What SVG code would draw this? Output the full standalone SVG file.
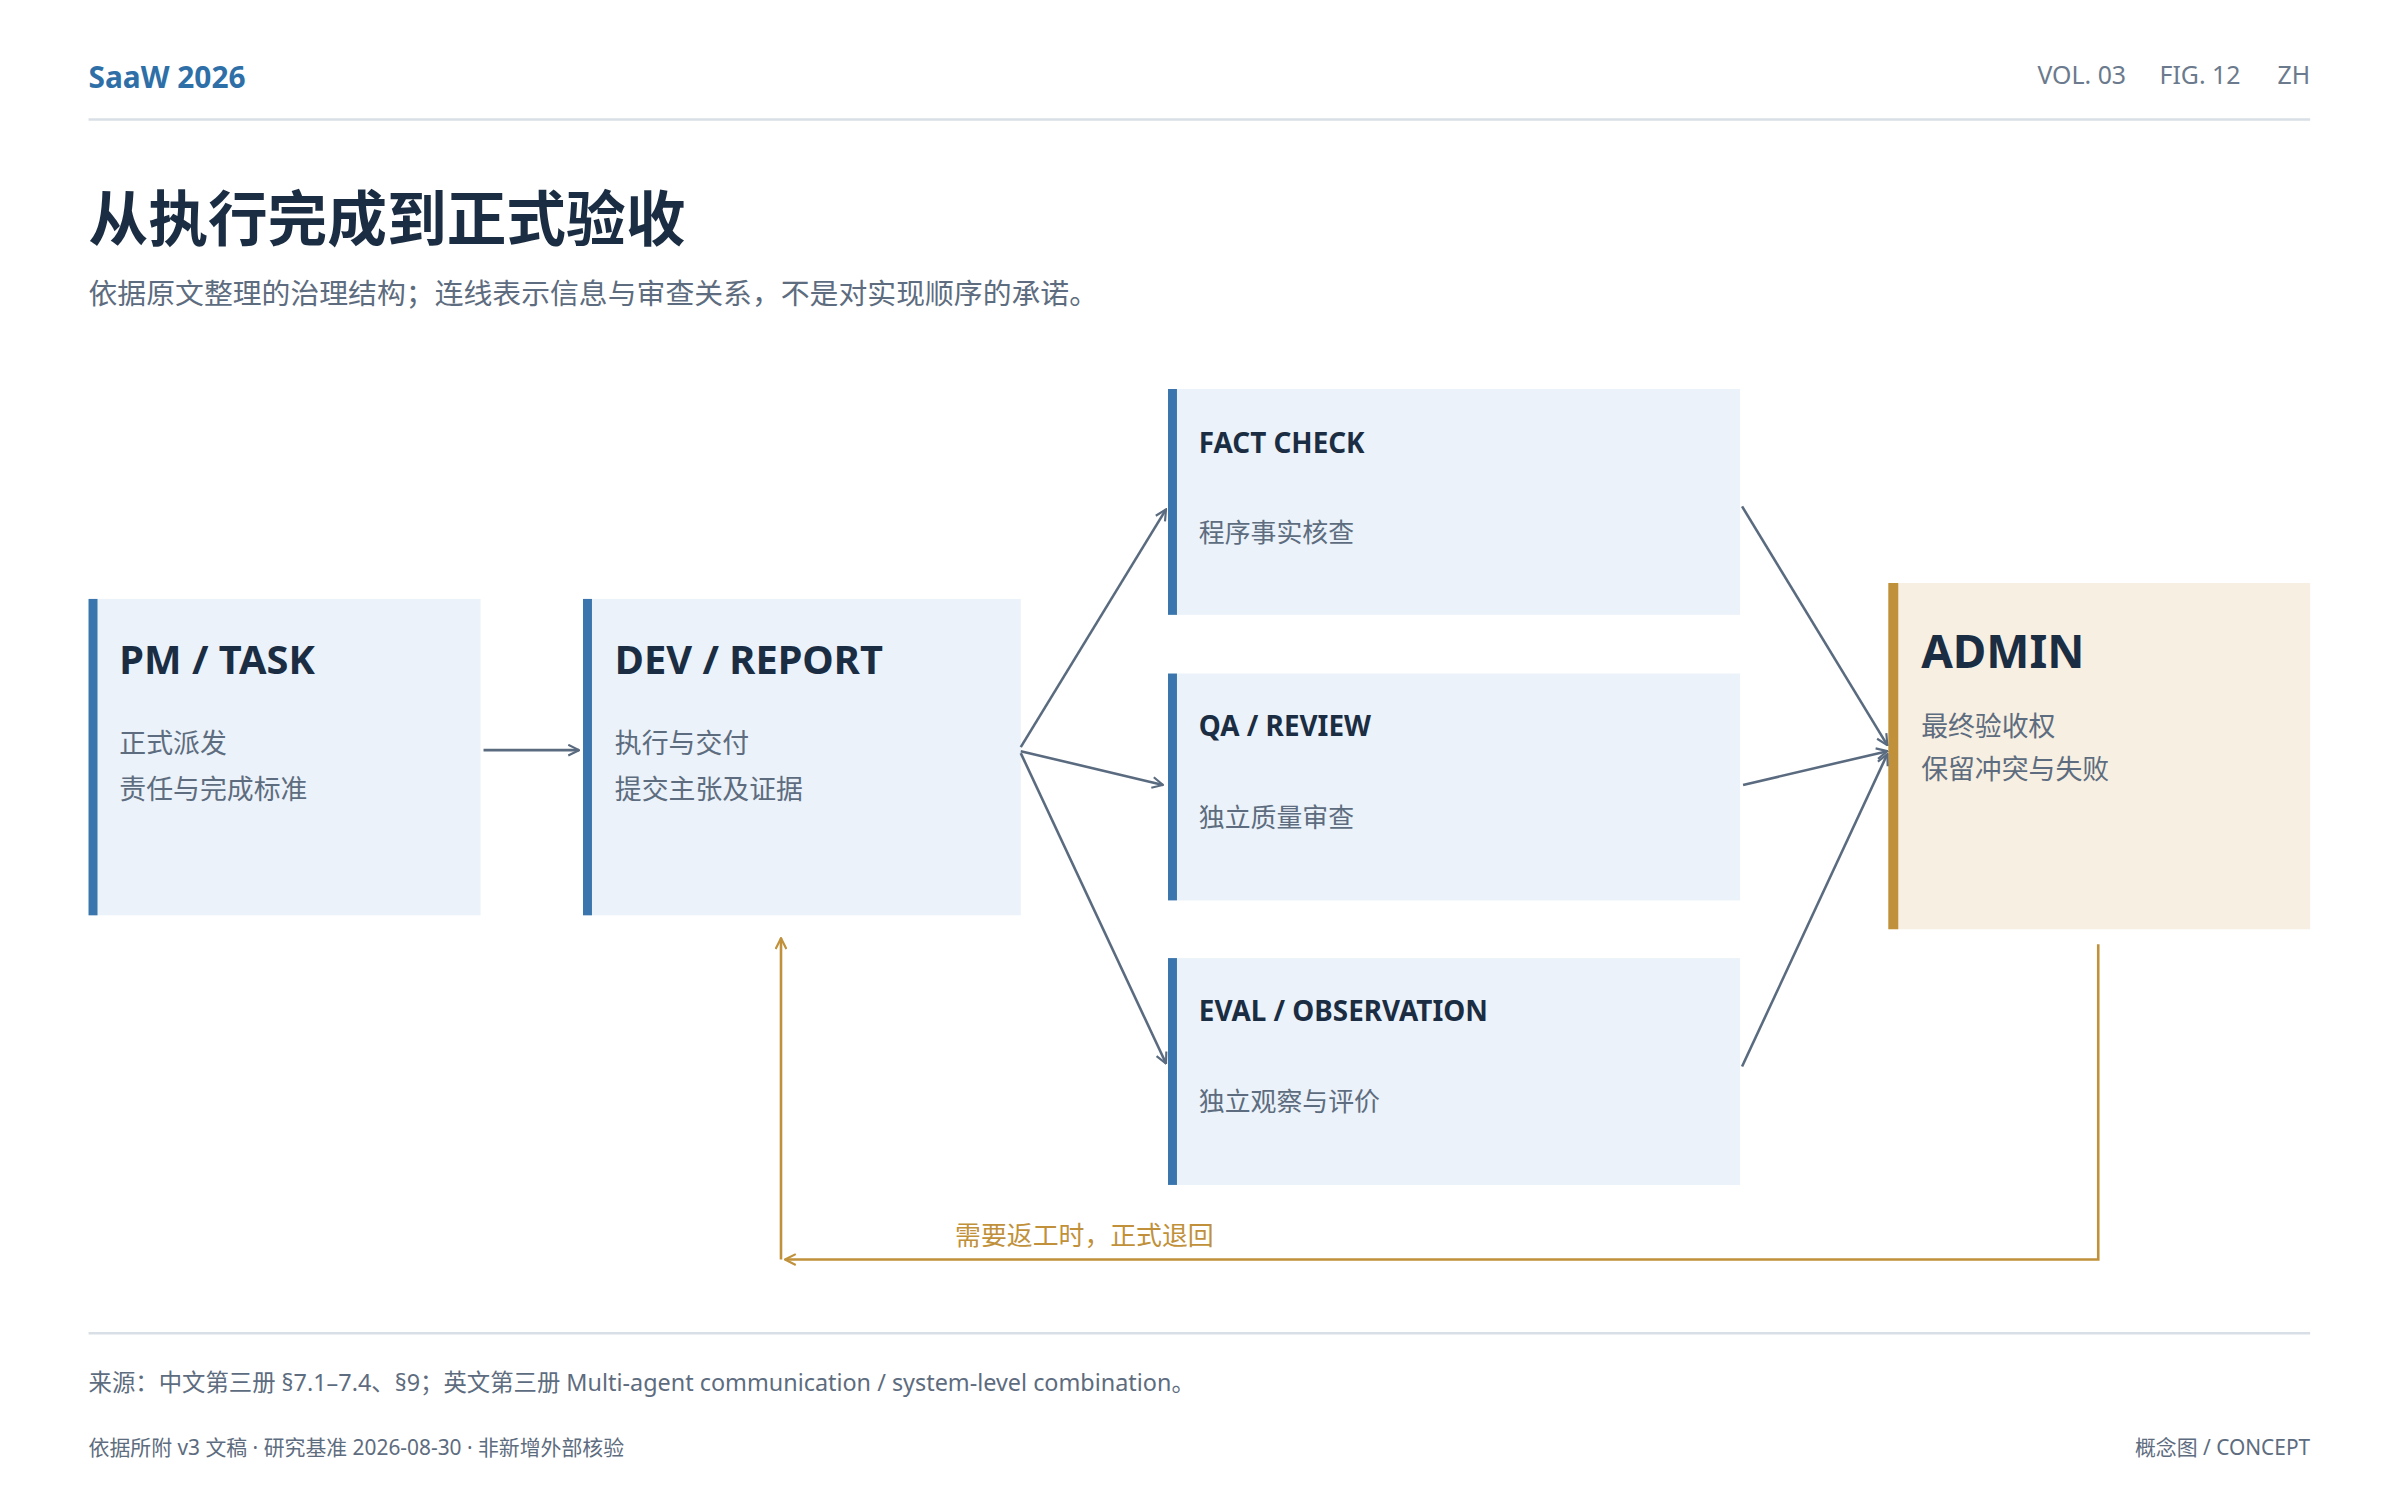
<svg xmlns="http://www.w3.org/2000/svg" width="2400" height="1500" viewBox="0 0 2400 1500">
<defs>
<style>
text{font-family:"Noto Sans","Noto Sans CJK SC",sans-serif}
.cj{font-family:"Noto Sans CJK SC","Noto Sans",sans-serif}
.bf{fill:#ebf2f9}.bb{fill:#3a76ad}
.h{font-weight:700;fill:#1b2d42}
.s{fill:#5d6c7e}
.c{stroke:#5a6b80;stroke-width:2.6;fill:none;marker-end:url(#a)}
.r{stroke:#c0913a;stroke-width:2.6;fill:none}
</style>
<marker id="a" viewBox="0 0 12 12" refX="11" refY="6" markerWidth="13" markerHeight="13" markerUnits="userSpaceOnUse" orient="auto"><path d="M1,1 L11,6 L1,11" fill="none" stroke="#5a6b80" stroke-width="2"/></marker>
<marker id="g" viewBox="0 0 12 12" refX="11" refY="6" markerWidth="13" markerHeight="13" markerUnits="userSpaceOnUse" orient="auto"><path d="M1,1 L11,6 L1,11" fill="none" stroke="#c0913a" stroke-width="2"/></marker>
</defs>
<rect width="2400" height="1500" fill="#fff"/>
<g transform="scale(0.9949)">
<text x="89" y="88" font-size="30" font-weight="700" fill="#2e6fa8">SaaW 2026</text>
<text x="2322" y="84" font-size="25" fill="#6b7a8c" text-anchor="end">ZH</text>
<text x="2252" y="84" font-size="25" fill="#6b7a8c" text-anchor="end">FIG. 12</text>
<text x="2137" y="84" font-size="25" fill="#6b7a8c" text-anchor="end">VOL. 03</text>
<line x1="89" y1="120" x2="2322" y2="120" stroke="#d9dfe6" stroke-width="2.5"/>
<text class="cj" x="89" y="242" font-size="60" font-weight="700" fill="#1b2d42">从执行完成到正式验收</text>
<text class="cj" x="89" y="306" font-size="29" fill="#5d6c7e">依据原文整理的治理结构；连线表示信息与审查关系，不是对实现顺序的承诺。</text>

<g id="pm"><rect class="bf" x="89" y="602" width="394" height="318"/><rect class="bb" x="89" y="602" width="9" height="318"/>
<text class="h" x="120" y="677" font-size="40">PM / TASK</text>
<text class="s" x="120" y="757" font-size="27">正式派发</text><text class="s" x="120" y="803" font-size="27">责任与完成标准</text></g>
<g id="dev"><rect class="bf" x="586" y="602" width="440" height="318"/><rect class="bb" x="586" y="602" width="9" height="318"/>
<text class="h" x="618" y="677" font-size="40">DEV / REPORT</text>
<text class="s" x="618" y="757" font-size="27">执行与交付</text><text class="s" x="618" y="803" font-size="27">提交主张及证据</text></g>
<g id="fact"><rect class="bf" x="1174" y="391" width="575" height="227"/><rect class="bb" x="1174" y="391" width="9" height="227"/>
<text class="h" x="1205" y="455" font-size="28">FACT CHECK</text>
<text class="s" x="1205" y="545" font-size="26">程序事实核查</text></g>
<g id="qa"><rect class="bf" x="1174" y="677" width="575" height="228"/><rect class="bb" x="1174" y="677" width="9" height="228"/>
<text class="h" x="1205" y="740" font-size="28">QA / REVIEW</text>
<text class="s" x="1205" y="831" font-size="26">独立质量审查</text></g>
<g id="eval"><rect class="bf" x="1174" y="963" width="575" height="228"/><rect class="bb" x="1174" y="963" width="9" height="228"/>
<text class="h" x="1205" y="1026" font-size="28">EVAL / OBSERVATION</text>
<text class="s" x="1205" y="1117" font-size="26">独立观察与评价</text></g>
<g id="admin"><rect fill="#f7efe2" x="1898" y="586" width="424" height="348"/><rect fill="#c0913a" x="1898" y="586" width="10" height="348"/>
<text class="h" x="1931" y="671" font-size="46">ADMIN</text>
<text class="s" x="1931" y="740" font-size="27">最终验收权</text><text class="s" x="1931" y="783" font-size="27">保留冲突与失败</text></g>

<g id="connectors">
<path class="c" d="M486,754 L582,754"/>
<path class="c" d="M1026,751 L1172,512"/>
<path class="c" d="M1026,755 L1169,789"/>
<path class="c" d="M1026,757 L1172,1069"/>
<path class="c" d="M1751,509 L1897,749"/>
<path class="c" d="M1752,789 L1897,755"/>
<path class="c" d="M1751,1072 L1897,758"/>
<path class="r" d="M2109,949 L2109,1266 L789,1266" marker-end="url(#g)"/>
<path class="r" d="M785,1266 L785,943" marker-end="url(#g)"/>
<text class="cj" x="960" y="1251" font-size="26" fill="#c0913a">需要返工时，正式退回</text>
</g>

<line x1="89" y1="1340" x2="2322" y2="1340" stroke="#d9dfe6" stroke-width="2.5"/>
<text x="89" y="1398" font-size="23.5" fill="#5d6c7e">来源：中文第三册 §7.1–7.4、§9；英文第三册 Multi-agent communication / system-level combination。</text>
<text x="89" y="1462" font-size="21" fill="#5d6c7e">依据所附 v3 文稿 · 研究基准 2026-08-30 · 非新增外部核验</text>
<text x="2322" y="1462" font-size="21" fill="#5d6c7e" text-anchor="end">概念图 / CONCEPT</text>
</g>
</svg>
